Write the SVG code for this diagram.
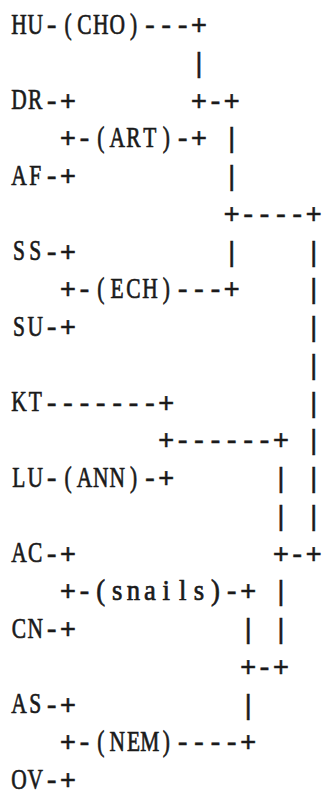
<svg xmlns="http://www.w3.org/2000/svg" width="322" height="802" viewBox="0 0 322 802">
<style>
text{fill:#1a1a1a;stroke:#1a1a1a;white-space:pre}
.k{font-family:"Liberation Mono","Courier New",monospace;font-size:27.29px;stroke-width:0.5}
.c{font-family:"Liberation Serif","Times New Roman",serif;font-size:29px;text-anchor:middle;stroke-width:0.7}
</style>
<rect width="322" height="802" fill="#ffffff"/>
<g id="connectors">
<text class="k" x="43.45" y="34">-</text><text class="k" x="141.7" y="34">---+</text>
<text class="k" x="190.8" y="71.75">|</text>
<text class="k" x="43.45" y="109.5">-+</text><text class="k" x="190.8" y="109.5">+-+</text>
<text class="k" x="59.8" y="147.25">+-</text><text class="k" x="174.45" y="147.25">-+</text><text class="k" x="223.6" y="147.25">|</text>
<text class="k" x="43.45" y="185">-+</text><text class="k" x="223.6" y="185">|</text>
<text class="k" x="223.6" y="222.75">+----+</text>
<text class="k" x="43.45" y="260.5">-+</text><text class="k" x="223.6" y="260.5">|</text><text class="k" x="305.45" y="260.5">|</text>
<text class="k" x="59.8" y="298.25">+-</text><text class="k" x="174.45" y="298.25">---+</text><text class="k" x="305.45" y="298.25">|</text>
<text class="k" x="43.45" y="336">-+</text><text class="k" x="305.45" y="336">|</text>
<text class="k" x="305.45" y="373.75">|</text>
<text class="k" x="43.45" y="411.5">-------+</text><text class="k" x="305.45" y="411.5">|</text>
<text class="k" x="158.1" y="449.25">+------+</text><text class="k" x="305.45" y="449.25">|</text>
<text class="k" x="43.45" y="487">-</text><text class="k" x="141.7" y="487">-+</text><text class="k" x="272.7" y="487">|</text><text class="k" x="305.45" y="487">|</text>
<text class="k" x="272.7" y="524.75">|</text><text class="k" x="305.45" y="524.75">|</text>
<text class="k" x="43.45" y="562.5">-+</text><text class="k" x="272.7" y="562.5">+-+</text>
<text class="k" x="59.8" y="600.25">+-</text><text class="k" x="223.6" y="600.25">-+</text><text class="k" x="272.7" y="600.25">|</text>
<text class="k" x="43.45" y="638">-+</text><text class="k" x="240" y="638">|</text><text class="k" x="272.7" y="638">|</text>
<text class="k" x="240" y="675.75">+-+</text>
<text class="k" x="43.45" y="713.5">-+</text><text class="k" x="240" y="713.5">|</text>
<text class="k" x="59.8" y="751.25">+-</text><text class="k" x="174.45" y="751.25">----+</text>
<text class="k" x="43.45" y="789">-+</text>
</g>
<g id="HU"><text class="c" transform="scale(0.74 1)" x="25.54 47.67" y="34">HU</text></g>
<g id="CHO"><text class="c" transform="scale(0.74 1)" x="91.93 114.05 136.18 158.31 180.44" y="34">(CHO)</text></g>
<g id="DR"><text class="c" transform="scale(0.74 1)" x="25.54 47.67" y="109.5">DR</text></g>
<g id="ART"><text class="c" transform="scale(0.74 1)" x="136.18 158.31 180.44 202.57 224.7" y="147.25">(ART)</text></g>
<g id="AF"><text class="c" transform="scale(0.74 1)" x="25.54 47.67" y="185">AF</text></g>
<g id="SS"><text class="c" transform="scale(0.74 1)" x="25.54 47.67" y="260.5">SS</text></g>
<g id="ECH"><text class="c" transform="scale(0.74 1)" x="136.18 158.31 180.44 202.57 224.7" y="298.25">(ECH)</text></g>
<g id="SU"><text class="c" transform="scale(0.74 1)" x="25.54 47.67" y="336">SU</text></g>
<g id="KT"><text class="c" transform="scale(0.74 1)" x="25.54 47.67" y="411.5">KT</text></g>
<g id="LU"><text class="c" transform="scale(0.74 1)" x="25.54 47.67" y="487">LU</text></g>
<g id="ANN"><text class="c" transform="scale(0.74 1)" x="91.93 114.05 136.18 158.31 180.44" y="487">(ANN)</text></g>
<g id="AC"><text class="c" transform="scale(0.74 1)" x="25.54 47.67" y="562.5">AC</text></g>
<g id="snails"><text class="c" transform="scale(0.92 1)" x="109.54 127.34 145.14 162.93 180.73 198.53 216.33 234.13" y="600.25">(snails)</text></g>
<g id="CN"><text class="c" transform="scale(0.74 1)" x="25.54 47.67" y="638">CN</text></g>
<g id="AS"><text class="c" transform="scale(0.74 1)" x="25.54 47.67" y="713.5">AS</text></g>
<g id="NEM"><text class="c" transform="scale(0.74 1)" x="136.18 158.31 180.44 202.57 224.7" y="751.25">(NEM)</text></g>
<g id="OV"><text class="c" transform="scale(0.74 1)" x="25.54 47.67" y="789">OV</text></g>
</svg>
